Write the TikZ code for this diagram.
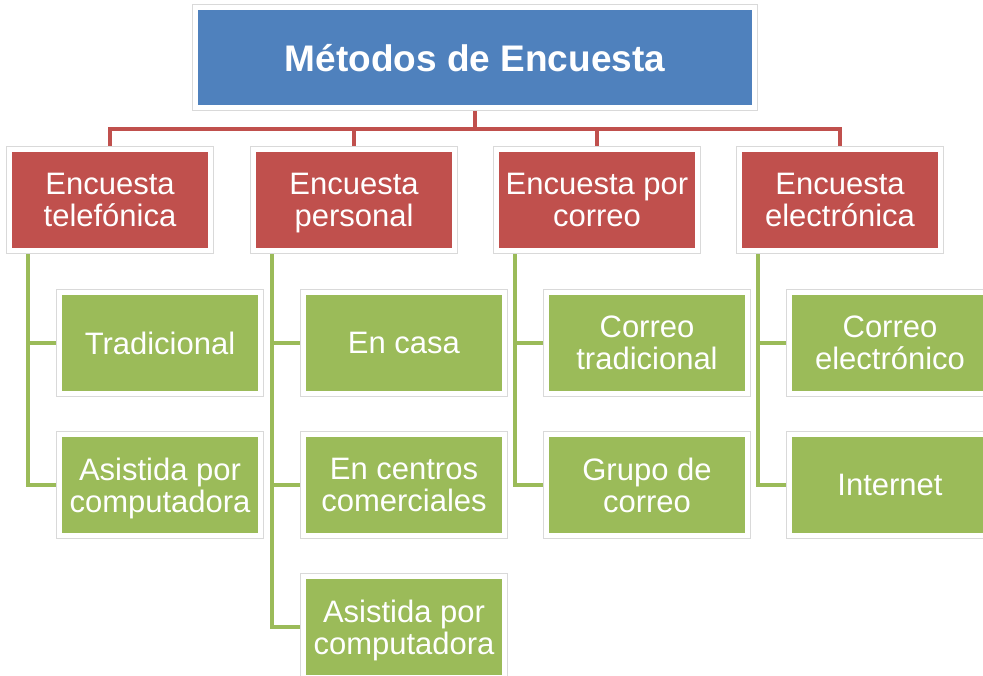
\documentclass[tikz,border=0pt]{standalone}
\usepackage{fontspec}
\setmainfont{Liberation Sans}
\usetikzlibrary{backgrounds}
\definecolor{boxblue}{HTML}{4F81BD}
\definecolor{boxred}{HTML}{C0504D}
\definecolor{boxgreen}{HTML}{9BBB59}

\begin{document}
\begin{tikzpicture}[x=1pt,y=-1pt,
    box/.style={draw=white,line width=5pt,preaction={draw=black!15,line width=7pt},
      minimum width=201pt,minimum height=101pt,inner sep=0pt,align=center,text=white,
      text depth=0pt,font=\fontsize{31}{32}\selectfont},
    topbox/.style={box,fill=boxblue,minimum width=559pt,minimum height=100pt,
      font=\fontsize{37}{40}\selectfont\bfseries},
    methodbox/.style={box,fill=boxred},
    itembox/.style={box,fill=boxgreen},
    redline/.style={draw=boxred,line width=4.5pt},
    greenline/.style={draw=boxgreen,line width=4pt}]
    \useasboundingbox (0,0) rectangle (983,675);
    \clip (0,0) rectangle (983,675);

    \node[topbox] (top) at (475,57.5) {Métodos de Encuesta};

    \node[methodbox] (tel) at (110,200) {Encuesta\\telefónica};
    \node[methodbox] (pers) at (354,200) {Encuesta\\personal};
    \node[methodbox] (corr) at (597,200) {Encuesta por\\correo};
    \node[methodbox] (elec) at (840,200) {Encuesta\\electrónica};

    \node[itembox] (teltrad) at (160,343) {Tradicional};
    \node[itembox] (telcomp) at (160,485) {Asistida por\\computadora};
    \node[itembox] (perscasa) at (404,343) {En casa};
    \node[itembox] (perscentro) at (404,485) {En centros\\comerciales};
    \node[itembox] (perscomp) at (404,627) {Asistida por\\computadora};
    \node[itembox] (corrtrad) at (647,343) {Correo\\tradicional};
    \node[itembox] (corrgrupo) at (647,485) {Grupo de\\correo};
    \node[itembox] (elecmail) at (890,343) {Correo\\electrónico};
    \node[itembox] (elecnet) at (890,485) {Internet};

    \begin{scope}[on background layer]
    \foreach \m in {tel,pers,corr,elec}
        \draw[redline] (top.south) -- ++(0,19) -| (\m.north);
    \foreach \m/\i in {tel/teltrad,tel/telcomp,pers/perscasa,pers/perscentro,
        pers/perscomp,corr/corrtrad,corr/corrgrupo,elec/elecmail,elec/elecnet}
        \draw[greenline] ([xshift=21pt]\m.south west) |- (\i.west);
    \end{scope}
\end{tikzpicture}
\end{document}
